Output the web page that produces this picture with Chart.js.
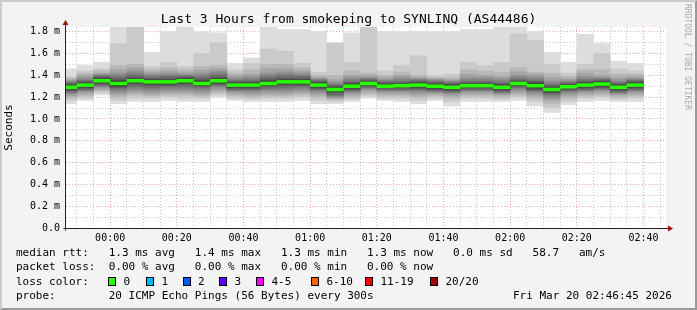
<!DOCTYPE html>
<html>
<head>
<meta charset="utf-8">
<script src="https://cdn.jsdelivr.net/npm/chart.js@4.4.1/dist/chart.umd.min.js"></script>
<style>
  body { margin: 0; background: #f3f3f3; }
  #wrap { position: relative; width: 697px; height: 310px; overflow: hidden; background: #f3f3f3; }
  #wrap canvas { position: absolute; left: 0; top: 0; }
  .t { position: absolute; white-space: pre; font: 11px "DejaVu Sans Mono", monospace; line-height: 14px; color: #000; }
  .title { left: 0; width: 697px; top: 11px; text-align: center; font-size: 13px; line-height: 16px; }
  .credit { left: 683px; top: 4px; font-size: 8px; line-height: 8px; color: #aaa; writing-mode: vertical-rl; }
  .box { position: absolute; width: 6px; height: 7px; border: 1px solid #000; }
  .shade { position: absolute; left: 0; top: 0; width: 697px; height: 310px; box-sizing: border-box;
           border-style: solid; border-width: 2px; border-color: #cbcbcb #999 #999 #cbcbcb; pointer-events: none; }
</style>
</head>
<body>
<div id="wrap">
  <canvas id="chart" width="697" height="310"></canvas>
  <div class="t title" id="title"></div>
  <div class="t credit">RRDTOOL / TOBI OETIKER</div>
  <div id="legend"></div>
  <div class="shade"></div>
</div>
<script>
// graph window and 5 minute steps
const viewStart = '23:46:45';
const viewEnd = '02:46:45';
const slotStart = ['23:45', '23:50', '23:55', '00:00', '00:05', '00:10', '00:15', '00:20', '00:25',
  '00:30', '00:35', '00:40', '00:45', '00:50', '00:55', '01:00', '01:05', '01:10', '01:15', '01:20',
  '01:25', '01:30', '01:35', '01:40', '01:45', '01:50', '01:55', '02:00', '02:05', '02:10', '02:15',
  '02:20', '02:25', '02:30', '02:35'];

// median rtt per step (ms)
const medians = [1.29, 1.31, 1.35, 1.325, 1.35, 1.34, 1.34, 1.35, 1.325, 1.35, 1.31, 1.31, 1.325,
  1.34, 1.34, 1.31, 1.27, 1.30, 1.325, 1.30, 1.305, 1.31, 1.30, 1.29, 1.305, 1.305, 1.29, 1.325,
  1.305, 1.27, 1.295, 1.31, 1.32, 1.29, 1.31];

// 20 sorted pings per step (ms)
const pings = [
  [1.14,1.17,1.19,1.21,1.23,1.24,1.25,1.26,1.27,1.28,1.30,1.31,1.32,1.33,1.34,1.35,1.36,1.37,1.39,1.46],
  [1.17,1.19,1.21,1.23,1.25,1.26,1.27,1.28,1.29,1.30,1.32,1.33,1.34,1.35,1.36,1.38,1.40,1.42,1.44,1.49],
  [1.22,1.24,1.26,1.27,1.29,1.30,1.31,1.32,1.33,1.34,1.36,1.37,1.38,1.39,1.40,1.41,1.42,1.44,1.46,1.52],
  [1.14,1.17,1.20,1.22,1.24,1.26,1.28,1.29,1.30,1.31,1.34,1.35,1.36,1.38,1.40,1.42,1.45,1.49,1.69,1.90],
  [1.16,1.19,1.22,1.24,1.26,1.28,1.30,1.32,1.33,1.34,1.36,1.37,1.38,1.40,1.42,1.44,1.47,1.50,1.84,1.90],
  [1.16,1.19,1.21,1.23,1.25,1.27,1.29,1.31,1.32,1.33,1.35,1.36,1.37,1.38,1.40,1.41,1.43,1.45,1.48,1.61],
  [1.17,1.20,1.22,1.24,1.26,1.28,1.30,1.31,1.32,1.33,1.35,1.36,1.37,1.39,1.40,1.42,1.44,1.47,1.52,1.80],
  [1.16,1.19,1.22,1.24,1.26,1.28,1.30,1.32,1.33,1.34,1.36,1.37,1.38,1.39,1.40,1.41,1.43,1.45,1.48,1.90],
  [1.16,1.19,1.21,1.23,1.25,1.27,1.29,1.30,1.31,1.32,1.33,1.35,1.36,1.38,1.40,1.42,1.45,1.48,1.60,1.80],
  [1.20,1.22,1.24,1.26,1.28,1.30,1.31,1.32,1.33,1.34,1.36,1.37,1.38,1.40,1.42,1.44,1.46,1.49,1.70,1.79],
  [1.17,1.19,1.21,1.23,1.25,1.26,1.27,1.28,1.29,1.30,1.32,1.33,1.34,1.35,1.36,1.38,1.40,1.42,1.45,1.51],
  [1.16,1.18,1.20,1.22,1.24,1.26,1.27,1.28,1.29,1.30,1.32,1.33,1.34,1.35,1.37,1.39,1.41,1.45,1.51,1.56],
  [1.16,1.19,1.21,1.23,1.25,1.27,1.28,1.30,1.31,1.32,1.33,1.35,1.36,1.38,1.40,1.42,1.46,1.50,1.64,1.90],
  [1.16,1.19,1.21,1.23,1.25,1.27,1.29,1.31,1.32,1.33,1.35,1.36,1.37,1.39,1.41,1.43,1.46,1.50,1.62,1.82],
  [1.17,1.20,1.22,1.24,1.26,1.28,1.30,1.31,1.32,1.33,1.35,1.36,1.37,1.39,1.40,1.42,1.44,1.47,1.51,1.82],
  [1.14,1.17,1.20,1.22,1.24,1.26,1.27,1.28,1.29,1.30,1.32,1.33,1.34,1.35,1.36,1.37,1.38,1.40,1.43,1.80],
  [1.14,1.16,1.18,1.19,1.20,1.21,1.22,1.24,1.25,1.26,1.28,1.29,1.30,1.31,1.32,1.34,1.36,1.40,1.69,1.70],
  [1.16,1.18,1.20,1.22,1.24,1.25,1.26,1.27,1.28,1.29,1.31,1.32,1.33,1.34,1.36,1.38,1.40,1.44,1.52,1.79],
  [1.19,1.21,1.23,1.25,1.27,1.28,1.29,1.30,1.31,1.32,1.33,1.34,1.35,1.36,1.37,1.38,1.40,1.42,1.84,1.90],
  [1.17,1.19,1.21,1.23,1.25,1.26,1.27,1.28,1.29,1.30,1.31,1.32,1.33,1.34,1.35,1.36,1.38,1.40,1.44,1.80],
  [1.16,1.19,1.21,1.23,1.25,1.26,1.27,1.28,1.29,1.30,1.31,1.32,1.33,1.34,1.36,1.38,1.40,1.43,1.49,1.80],
  [1.14,1.17,1.20,1.22,1.24,1.26,1.27,1.28,1.29,1.30,1.32,1.33,1.34,1.35,1.36,1.37,1.38,1.40,1.58,1.80],
  [1.17,1.19,1.21,1.23,1.24,1.25,1.26,1.27,1.28,1.29,1.31,1.32,1.33,1.34,1.35,1.36,1.37,1.38,1.40,1.80],
  [1.12,1.16,1.19,1.21,1.23,1.24,1.25,1.26,1.27,1.28,1.30,1.31,1.32,1.33,1.34,1.35,1.36,1.38,1.41,1.80],
  [1.16,1.19,1.21,1.23,1.25,1.26,1.27,1.28,1.29,1.30,1.31,1.32,1.33,1.34,1.36,1.38,1.41,1.45,1.52,1.82],
  [1.16,1.19,1.21,1.23,1.25,1.26,1.27,1.28,1.29,1.30,1.31,1.32,1.33,1.34,1.36,1.38,1.40,1.44,1.49,1.82],
  [1.16,1.18,1.20,1.22,1.23,1.24,1.25,1.26,1.27,1.28,1.30,1.31,1.32,1.33,1.35,1.37,1.39,1.43,1.52,1.84],
  [1.17,1.20,1.22,1.24,1.26,1.28,1.29,1.30,1.31,1.32,1.33,1.34,1.35,1.36,1.38,1.40,1.43,1.47,1.78,1.84],
  [1.12,1.16,1.19,1.21,1.23,1.25,1.26,1.27,1.28,1.29,1.32,1.33,1.34,1.35,1.37,1.39,1.41,1.43,1.72,1.80],
  [1.06,1.10,1.14,1.17,1.19,1.21,1.23,1.24,1.25,1.26,1.28,1.29,1.30,1.31,1.33,1.35,1.38,1.42,1.50,1.61],
  [1.13,1.16,1.19,1.21,1.23,1.25,1.26,1.27,1.28,1.29,1.30,1.31,1.32,1.33,1.34,1.35,1.37,1.39,1.42,1.52],
  [1.16,1.19,1.21,1.23,1.25,1.26,1.27,1.28,1.29,1.30,1.32,1.33,1.34,1.35,1.37,1.39,1.42,1.45,1.50,1.775],
  [1.17,1.20,1.22,1.24,1.26,1.27,1.28,1.29,1.30,1.31,1.33,1.34,1.35,1.36,1.37,1.38,1.40,1.45,1.60,1.69],
  [1.16,1.18,1.20,1.22,1.23,1.24,1.25,1.26,1.27,1.28,1.30,1.31,1.32,1.33,1.34,1.36,1.38,1.41,1.46,1.53],
  [1.16,1.19,1.21,1.23,1.25,1.26,1.27,1.28,1.29,1.30,1.32,1.33,1.34,1.35,1.36,1.37,1.39,1.41,1.44,1.51]
];

const lossLabels = ['0', '1', '2', '3', '4-5', '6-10', '11-19', '20/20'];
const lossColors = ['#26ff00', '#00b8ff', '#0059ff', '#5e00ff', '#ff00ff', '#ff5e00', '#ff0000', '#a10000'];

const titleText = 'Last 3 Hours from smokeping to SYNLINQ (AS44486)';
const legendRows = [
  'median rtt:   1.3 ms avg   1.4 ms max   1.3 ms min   1.3 ms now   0.0 ms sd   58.7   am/s',
  'packet loss:  0.00 % avg   0.00 % max   0.00 % min   0.00 % now',
  'loss color:',
  'probe:        20 ICMP Echo Pings (56 Bytes) every 300s'
];
const stampText = 'Fri Mar 20 02:46:45 2026';

const FONT = '"DejaVu Sans Mono", monospace';
const RED = 'rgba(240, 60, 60, 0.45)';
const GRAY = 'rgba(120, 120, 120, 0.4)';

function toMin(s) {
  const [h, m, sec = 0] = s.split(':').map(Number);
  let v = h * 60 + m + sec / 60;
  if (h >= 12) v -= 1440;
  return v;
}
function fmtMin(v) {
  const t = (Math.round(v) + 1440) % 1440;
  return String(Math.floor(t / 60)).padStart(2, '0') + ':' + String(t % 60).padStart(2, '0');
}

// text around the graph
document.getElementById('title').textContent = titleText;
const legend = document.getElementById('legend');
legendRows.forEach((row, i) => {
  const el = document.createElement('div');
  el.className = 't';
  el.style.left = '16px';
  el.style.top = (246 + i * 14.4) + 'px';
  el.textContent = row;
  legend.appendChild(el);
});
const boxX = [108, 146, 182.5, 219, 256, 311, 365, 430];
lossLabels.forEach((lab, i) => {
  const b = document.createElement('div');
  b.className = 'box';
  b.style.left = boxX[i] + 'px';
  b.style.top = '277px';
  b.style.background = lossColors[i];
  legend.appendChild(b);
  const t = document.createElement('div');
  t.className = 't';
  t.style.left = (boxX[i] + 15.5) + 'px';
  t.style.top = (246 + 2 * 14.4) + 'px';
  t.textContent = lab;
  legend.appendChild(t);
});
const stamp = document.createElement('div');
stamp.className = 't';
stamp.style.left = '513px';
stamp.style.top = (246 + 3 * 14.4) + 'px';
stamp.textContent = stampText;
legend.appendChild(stamp);

// smoke layers: outer pair lightest, inner pair darkest
const datasets = [];
datasets.push({
  label: 'median',
  data: slotStart.map((s, b) => ({ x: toMin(s) + 2.5, y: [medians[b] - 0.013, medians[b] + 0.013] })),
  backgroundColor: lossColors[0],
  order: 0
});
for (let i = 0; i < 10; i++) {
  const g = Math.floor(190 / 10 * (10 - (i + 1))) + 50;
  datasets.push({
    label: 'smoke' + i,
    data: slotStart.map((s, b) => ({ x: toMin(s) + 2.5, y: [pings[b][i], pings[b][19 - i]] })),
    backgroundColor: `rgb(${g},${g},${g})`,
    order: 20 - i
  });
}
datasets.forEach(d => {
  d.type = 'bar';
  d.borderWidth = 0;
  d.grouped = false;
  d.barPercentage = 1;
  d.categoryPercentage = 1;
});

const xGrid = [];
for (let v = -10; v <= 165; v += 5) xGrid.push(v);
const yGrid = [];
for (let k = 0; k <= 18; k++) yGrid.push(k / 10);

const frame = {
  id: 'frame',
  beforeDraw(chart) {
    const { ctx, chartArea: a } = chart;
    ctx.save();
    ctx.fillStyle = '#ffffff';
    ctx.fillRect(a.left, a.top, a.right - a.left, a.bottom - a.top);
    ctx.restore();
  },
  afterDraw(chart) {
    const { ctx, chartArea: a } = chart;
    const x0 = Math.round(a.left) - 0.5;
    const y0 = Math.round(a.bottom) + 0.5;
    ctx.save();
    ctx.strokeStyle = '#222';
    ctx.lineWidth = 1;
    ctx.beginPath();
    ctx.moveTo(x0, y0 + 2);
    ctx.lineTo(x0, a.top - 3);
    ctx.moveTo(x0 - 2, y0);
    ctx.lineTo(a.right + 3, y0);
    ctx.stroke();
    ctx.fillStyle = '#a01010';
    ctx.beginPath();
    ctx.moveTo(x0 - 3, a.top - 2);
    ctx.lineTo(x0 + 3, a.top - 2);
    ctx.lineTo(x0, a.top - 7);
    ctx.closePath();
    ctx.fill();
    ctx.beginPath();
    ctx.moveTo(a.right + 2, y0 - 3);
    ctx.lineTo(a.right + 2, y0 + 3);
    ctx.lineTo(a.right + 7, y0);
    ctx.closePath();
    ctx.fill();
    ctx.restore();
  }
};

new Chart(document.getElementById('chart'), {
  type: 'bar',
  data: { datasets },
  options: {
    responsive: false,
    animation: false,
    events: [],
    devicePixelRatio: 1,
    layout: { padding: { left: 0, right: 31, top: 27, bottom: 62 } },
    plugins: { legend: { display: false }, tooltip: { enabled: false }, title: { display: false } },
    scales: {
      x: {
        type: 'linear',
        min: toMin(viewStart),
        max: toMin(viewEnd),
        offset: false,
        z: 1,
        afterBuildTicks: s => { s.ticks = xGrid.map(v => ({ value: v })); },
        afterFit: s => { s.height = 20; },
        grid: {
          offset: false,
          drawTicks: false,
          lineWidth: 1,
          color: c => (c.tick && c.tick.value % 20 === 0 ? RED : GRAY)
        },
        border: { display: false, dash: [1, 2] },
        ticks: {
          autoSkip: false,
          maxRotation: 0,
          padding: 4,
          color: '#000',
          font: { family: FONT, size: 10, lineHeight: 1.2 },
          callback: v => (v % 20 === 0 ? fmtMin(v) : '')
        }
      },
      y: {
        min: 0,
        max: 1.843,
        z: 1,
        afterBuildTicks: s => { s.ticks = yGrid.map(v => ({ value: v })); },
        afterFit: s => { s.width = 66; },
        grid: {
          drawTicks: false,
          lineWidth: 1,
          color: c => {
            if (!c.tick || c.tick.value === 0) return 'rgba(0,0,0,0)';
            return Math.round(c.tick.value * 10) % 2 === 0 ? RED : GRAY;
          }
        },
        border: { display: false, dash: [1, 2] },
        ticks: {
          autoSkip: false,
          padding: 6,
          color: '#000',
          font: { family: FONT, size: 10 },
          callback: v => {
            const k = Math.round(v * 10);
            if (k % 2 !== 0) return '';
            return k === 0 ? '0.0' : (k / 10).toFixed(1) + ' m';
          }
        },
        title: {
          display: true,
          text: 'Seconds',
          color: '#000',
          font: { family: FONT, size: 11 },
          padding: { top: 3, bottom: 0 }
        }
      }
    }
  },
  plugins: [frame]
});
</script>
</body>
</html>
